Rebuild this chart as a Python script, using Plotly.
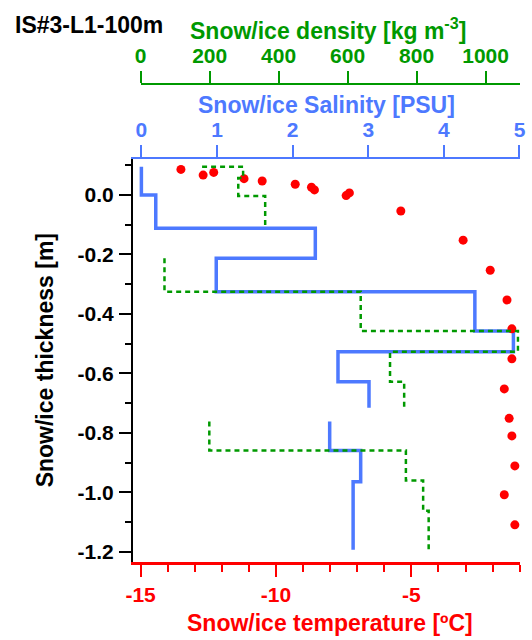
import plotly.graph_objects as go

# ---------------------------------------------------------------------------
# Profile data for ice station IS#3, line L1, 100 m
# ---------------------------------------------------------------------------
# Temperature string readings: depth (m, positive = above ice surface) and °C
temp_depth = [0.086, 0.067, 0.076, 0.055, 0.047, 0.036, 0.026, 0.017, -0.002,
              0.007, -0.054, -0.152, -0.253, -0.353, -0.450, -0.551, -0.652,
              -0.751, -0.810, -0.911, -1.008, -1.109]
temp_value = [-13.51, -12.69, -12.30, -11.18, -10.51, -9.29, -8.69, -8.58, -7.41,
              -7.29, -5.39, -3.09, -2.09, -1.47, -1.29, -1.29, -1.57,
              -1.39, -1.29, -1.18, -1.57, -1.18]

# Salinity (PSU) per core section: layer tops, layer values, section bottom
sal_top_upper = [0.095, 0.0, -0.112, -0.213, -0.325, -0.457, -0.527, -0.628]
sal_val_upper = [0.0, 0.19, 2.30, 0.99, 4.41, 4.92, 2.60, 3.01]
sal_bottom_upper = -0.715
sal_top_lower = [-0.762, -0.859, -0.964]
sal_val_lower = [2.49, 2.90, 2.80]
sal_bottom_lower = -1.193

# Density (kg m-3) per section: layer tops, layer values, section bottom
den_top_snow = [0.095, 0.095, 0.057, -0.003]
den_val_snow = [178, 297, 283, 361]
den_bottom_snow = -0.101
den_top_upper = [-0.213, -0.325, -0.457, -0.527, -0.628]
den_val_upper = [69, 638, 1094, 723, 764]
den_bottom_upper = -0.715
den_top_lower = [-0.762, -0.859, -0.960, -1.062]
den_val_lower = [199, 769, 819, 835]
den_bottom_lower = -1.193

# Axis ticks
depth_ticks = [0.0, -0.2, -0.4, -0.6, -0.8, -1.0, -1.2]
depth_labels = ["0.0", "-0.2", "-0.4", "-0.6", "-0.8", "-1.0", "-1.2"]
depth_minor = [0.1, -0.1, -0.3, -0.5, -0.7, -0.9, -1.1]
temp_ticks = [-15, -10, -5]
temp_labels = ["-15", "-10", "-5"]
temp_minor = list(range(-15, 0))
sal_ticks = [0, 1, 2, 3, 4, 5]
den_ticks = [0, 200, 400, 600, 800, 1000]

# ---------------------------------------------------------------------------
W, H = 532, 640
M_L, M_R, M_T, M_B = 133, 6, 84, 78
PLOT_TOP = 159          # pixel row where the inner (salinity) frame starts

FONT = "Liberation Sans, Arial, sans-serif"
RED = "#FF0000"
BLUE = "#4D79FF"
GREEN = "#009900"
TICK_SIZE = 21
TITLE_SIZE = 23


def paper_x(px):
    return (px - M_L) / (W - M_L - M_R)


def paper_y(py):
    return (H - M_B - py) / (H - M_T - M_B)


def step_profile(sections):
    """Join layered sections into one vertical-step polyline, gaps between sections."""
    xs, ys = [], []
    for tops, vals, bottom in sections:
        if xs:
            xs.append(None)
            ys.append(None)
        xs += list(vals) + [vals[-1]]
        ys += list(tops) + [bottom]
    return xs, ys


sal_x, sal_y = step_profile([
    (sal_top_upper, sal_val_upper, sal_bottom_upper),
    (sal_top_lower, sal_val_lower, sal_bottom_lower),
])
den_x, den_y = step_profile([
    (den_top_snow, den_val_snow, den_bottom_snow),
    (den_top_upper, den_val_upper, den_bottom_upper),
    (den_top_lower, den_val_lower, den_bottom_lower),
])

fig = go.Figure()

fig.add_trace(go.Scatter(
    x=sal_x, y=sal_y, xaxis="x", yaxis="y", mode="lines",
    line=dict(color=BLUE, width=3.5, shape="vh"), connectgaps=False,
    name="Salinity",
))
fig.add_trace(go.Scatter(
    x=den_x, y=den_y, xaxis="x2", yaxis="y", mode="lines",
    line=dict(color=GREEN, width=2.5, shape="vh", dash="5px,4px"), connectgaps=False,
    name="Density",
))
fig.add_trace(go.Scatter(
    x=temp_value, y=temp_depth, xaxis="x3", yaxis="y", mode="markers",
    marker=dict(color=RED, size=9, line=dict(width=0)),
    name="Temperature",
))


def tick_font(color):
    return dict(family=FONT, size=TICK_SIZE, color=color, weight="bold")


def title_font(color):
    return dict(family=FONT, size=TITLE_SIZE, color=color, weight="bold")


fig.update_layout(
    width=W, height=H,
    margin=dict(l=M_L, r=M_R, t=M_T, b=M_B, pad=0),
    paper_bgcolor="white",
    plot_bgcolor="rgba(0,0,0,0)",
    showlegend=False,
    yaxis=dict(
        domain=[0, paper_y(PLOT_TOP)], range=[-1.234, 0.121], anchor="x", side="left",
        showline=True, linecolor="black", linewidth=2,
        ticks="outside", ticklen=12, tickwidth=2, tickcolor="black",
        tickmode="array", tickvals=depth_ticks, ticktext=depth_labels,
        tickfont=tick_font("black"), ticklabelstandoff=1,
        minor=dict(tickmode="array", tickvals=depth_minor, ticks="outside",
                   ticklen=6, tickwidth=2, tickcolor="black"),
        showgrid=False, zeroline=False,
    ),
    # salinity: top of the data frame
    xaxis=dict(
        domain=[0, 1], range=[-0.111, 5.007], anchor="y", side="top",
        showline=True, linecolor=BLUE, linewidth=2,
        ticks="outside", ticklen=12, tickwidth=2, tickcolor=BLUE,
        tickmode="array", tickvals=sal_ticks,
        tickfont=tick_font(BLUE), ticklabelstandoff=0,
        showgrid=False, zeroline=False,
    ),
    # density: free axis above the salinity axis
    xaxis2=dict(
        domain=[paper_x(140.8), paper_x(525.7)], range=[0, 1099],
        anchor="free", position=1, side="top",
        showline=True, linecolor=GREEN, linewidth=2,
        ticks="outside", ticklen=12, tickwidth=2, tickcolor=GREEN,
        tickmode="array", tickvals=den_ticks,
        tickfont=tick_font(GREEN), ticklabelstandoff=0,
        showgrid=False, zeroline=False,
    ),
    # temperature: bottom of the data frame
    xaxis3=dict(
        overlaying="x", range=[-15.28, -0.99], anchor="y", side="bottom",
        showline=True, linecolor=RED, linewidth=2.5,
        ticks="outside", ticklen=12, tickwidth=2, tickcolor=RED,
        tickmode="array", tickvals=temp_ticks, ticktext=temp_labels,
        tickfont=tick_font(RED), ticklabelstandoff=0,
        minor=dict(tickmode="array", tickvals=temp_minor, ticks="outside",
                   ticklen=7, tickwidth=2, tickcolor=RED),
        showgrid=False, zeroline=False,
    ),
)

annotations = [
    dict(text="IS#3-L1-100m", x=paper_x(12), xanchor="left",
         y=paper_y(25.4), yanchor="middle", font=title_font("black")),
    dict(text="Snow/ice density [kg m<sup>-3</sup>]", x=paper_x(331), xanchor="center",
         y=paper_y(45), yanchor="bottom", font=title_font(GREEN)),
    dict(text="Snow/ice Salinity [PSU]", x=paper_x(329), xanchor="center",
         y=paper_y(104.5), yanchor="middle", font=title_font(BLUE)),
    dict(text="Snow/ice temperature [ºC]", x=paper_x(333.3), xanchor="center",
         y=paper_y(623.3), yanchor="middle", font=title_font(RED)),
    dict(text="Snow/ice thickness [m]", x=paper_x(44), xanchor="center",
         y=paper_y(360), yanchor="middle", textangle=-90, font=title_font("black")),
]
for a in annotations:
    a.update(xref="paper", yref="paper", showarrow=False, borderpad=0)
fig.update_layout(annotations=annotations)

fig.write_html("out.html")
